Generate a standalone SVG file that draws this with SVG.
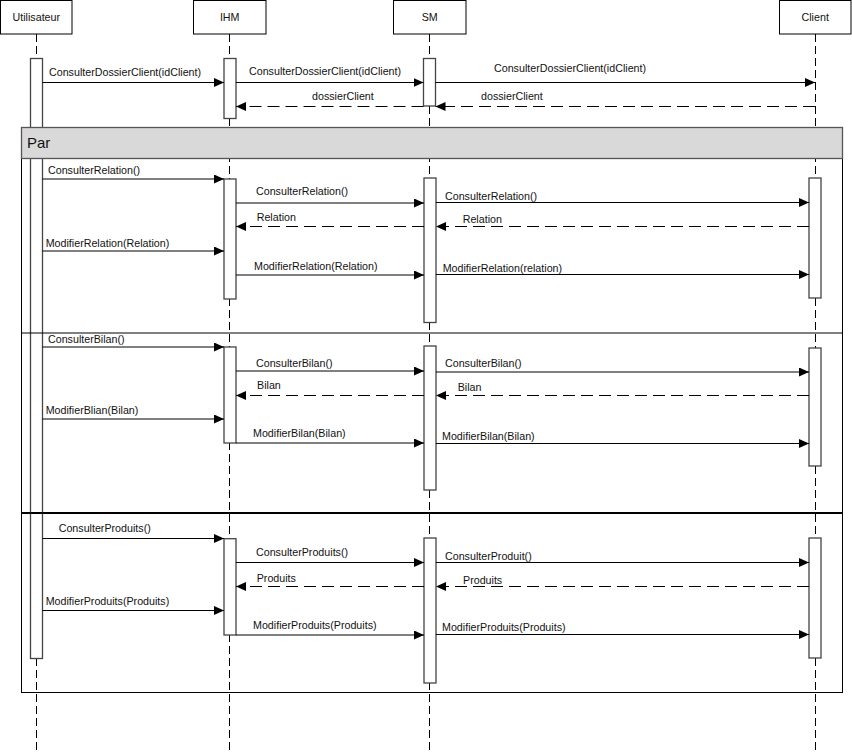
<svg xmlns="http://www.w3.org/2000/svg" width="852" height="752" viewBox="0 0 852 752">
<style>
text{font-family:"Liberation Sans",Arial,sans-serif;font-size:10.7px;fill:#111}
.head{fill:#fff;stroke:#000;stroke-width:1}
.life{stroke:#000;stroke-width:1;stroke-dasharray:8,4;fill:none}
.act{fill:#fff;stroke:#444;stroke-width:1.3}
.msg{stroke:#000;stroke-width:1;fill:none;marker-end:url(#ah)}
.ret{stroke:#000;stroke-width:1;fill:none;stroke-dasharray:12,6;marker-end:url(#ah)}
.frame{fill:none;stroke:#000;stroke-width:1}
</style>
<defs>
<marker id="ah" markerUnits="userSpaceOnUse" markerWidth="10" markerHeight="9" refX="10" refY="4.5" orient="auto">
<path d="M0,0 L10,4.5 L0,9 z" fill="#000"/>
</marker>
</defs>

<g id="lifelines">
<line class="life" x1="36.5" y1="34" x2="36.5" y2="752"/>
<line class="life" x1="229.5" y1="34" x2="229.5" y2="752"/>
<line class="life" x1="429.5" y1="34" x2="429.5" y2="752"/>
<line class="life" x1="815.5" y1="34" x2="815.5" y2="752"/>
</g>

<g id="node-utilisateur">
<rect class="head" x="0.5" y="0.5" width="71.5" height="33.5"/>
<text x="36.3" y="21" text-anchor="middle">Utilisateur</text>
</g>
<g id="node-ihm">
<rect class="head" x="193.5" y="0.5" width="72.5" height="33.5"/>
<text x="229.7" y="21" text-anchor="middle">IHM</text>
</g>
<g id="node-sm">
<rect class="head" x="393.5" y="0.5" width="72.5" height="33.5"/>
<text x="429.7" y="21" text-anchor="middle">SM</text>
</g>
<g id="node-client">
<rect class="head" x="779.5" y="0.5" width="71.5" height="33.5"/>
<text x="815.2" y="21" text-anchor="middle">Client</text>
</g>

<g id="activations">
<rect class="act" x="30.5" y="58.5" width="12" height="600"/>
<rect class="act" x="224" y="58.5" width="12" height="60"/>
<rect class="act" x="423.5" y="58.5" width="12" height="47.5"/>

<rect class="act" x="224" y="179" width="12" height="120"/>
<rect class="act" x="424" y="178" width="12" height="144.5"/>
<rect class="act" x="809" y="178" width="12" height="120"/>

<rect class="act" x="224" y="347" width="12" height="96"/>
<rect class="act" x="424" y="346" width="12" height="144"/>
<rect class="act" x="809" y="348" width="12" height="118"/>

<rect class="act" x="224" y="538.7" width="12" height="96.3"/>
<rect class="act" x="424" y="538" width="12" height="145"/>
<rect class="act" x="809" y="538" width="12" height="120"/>
</g>

<g id="frame-par">
<rect class="frame" x="21.5" y="127.5" width="821" height="565"/>
<rect x="21.5" y="127.5" width="821" height="31" fill="#d9d9d9" stroke="#555" stroke-width="1.3"/>
<text x="27" y="148" style="font-size:15px">Par</text>
<line x1="21.5" y1="333" x2="842.5" y2="333" stroke="#000" stroke-width="1"/>
<line x1="21.5" y1="513" x2="842.5" y2="513" stroke="#000" stroke-width="2"/>
</g>

<g id="connectors">
<line class="msg" x1="42.5" y1="82.5" x2="224" y2="82.5"/>
<line class="msg" x1="236" y1="82.5" x2="423.5" y2="82.5"/>
<line class="msg" x1="435.5" y1="82.5" x2="815" y2="82.5"/>
<line class="ret" x1="815" y1="106.5" x2="435.5" y2="106.5"/>
<line class="ret" x1="423.5" y1="106.5" x2="236" y2="106.5"/>

<line class="msg" x1="42.5" y1="179" x2="224" y2="179"/>
<line class="msg" x1="236" y1="203" x2="424" y2="203"/>
<line class="msg" x1="436" y1="202.5" x2="809" y2="202.5"/>
<line class="ret" x1="809" y1="226.5" x2="436" y2="226.5"/>
<line class="ret" x1="424" y1="226.5" x2="236" y2="226.5"/>
<line class="msg" x1="42.5" y1="251" x2="224" y2="251"/>
<line class="msg" x1="236" y1="275" x2="424" y2="275"/>
<line class="msg" x1="436" y1="274.5" x2="809" y2="274.5"/>

<line class="msg" x1="42.5" y1="347" x2="224" y2="347"/>
<line class="msg" x1="236" y1="371" x2="424" y2="371"/>
<line class="msg" x1="436" y1="372" x2="809" y2="372"/>
<line class="ret" x1="809" y1="395.5" x2="436" y2="395.5"/>
<line class="ret" x1="424" y1="395.5" x2="236" y2="395.5"/>
<line class="msg" x1="42.5" y1="419" x2="224" y2="419"/>
<line class="msg" x1="236" y1="443" x2="424" y2="443"/>
<line class="msg" x1="436" y1="443.5" x2="809" y2="443.5"/>

<line class="msg" x1="42.5" y1="538.5" x2="224" y2="538.5"/>
<line class="msg" x1="236" y1="562.5" x2="424" y2="562.5"/>
<line class="msg" x1="436" y1="562.5" x2="809" y2="562.5"/>
<line class="ret" x1="809" y1="586.5" x2="436" y2="586.5"/>
<line class="ret" x1="424" y1="586.5" x2="236" y2="586.5"/>
<line class="msg" x1="42.5" y1="610.5" x2="224" y2="610.5"/>
<line class="msg" x1="236" y1="635" x2="424" y2="635"/>
<line class="msg" x1="436" y1="634.5" x2="809" y2="634.5"/>
</g>

<g id="labels">
<text x="49" y="76">ConsulterDossierClient(idClient)</text>
<text x="249" y="75">ConsulterDossierClient(idClient)</text>
<text x="494" y="72">ConsulterDossierClient(idClient)</text>
<text x="481" y="100">dossierClient</text>
<text x="312" y="100">dossierClient</text>

<text x="48" y="174">ConsulterRelation()</text>
<text x="256" y="195">ConsulterRelation()</text>
<text x="445" y="200">ConsulterRelation()</text>
<text x="462.7" y="223">Relation</text>
<text x="256.7" y="221">Relation</text>
<text x="45.7" y="247">ModifierRelation(Relation)</text>
<text x="254" y="270">ModifierRelation(Relation)</text>
<text x="442.7" y="272">ModifierRelation(relation)</text>

<text x="48" y="343">ConsulterBilan()</text>
<text x="256" y="367">ConsulterBilan()</text>
<text x="445" y="367">ConsulterBilan()</text>
<text x="457.7" y="391">Bilan</text>
<text x="257" y="389">Bilan</text>
<text x="45.7" y="413.5">ModifierBlian(Bilan)</text>
<text x="253" y="437">ModifierBilan(Bilan)</text>
<text x="442" y="440">ModifierBilan(Bilan)</text>

<text x="58.7" y="532">ConsulterProduits()</text>
<text x="256" y="556">ConsulterProduits()</text>
<text x="445" y="560">ConsulterProduit()</text>
<text x="463" y="584">Produits</text>
<text x="256.7" y="582">Produits</text>
<text x="45.7" y="605">ModifierProduits(Produits)</text>
<text x="253" y="629">ModifierProduits(Produits)</text>
<text x="442" y="631">ModifierProduits(Produits)</text>
</g>
</svg>
